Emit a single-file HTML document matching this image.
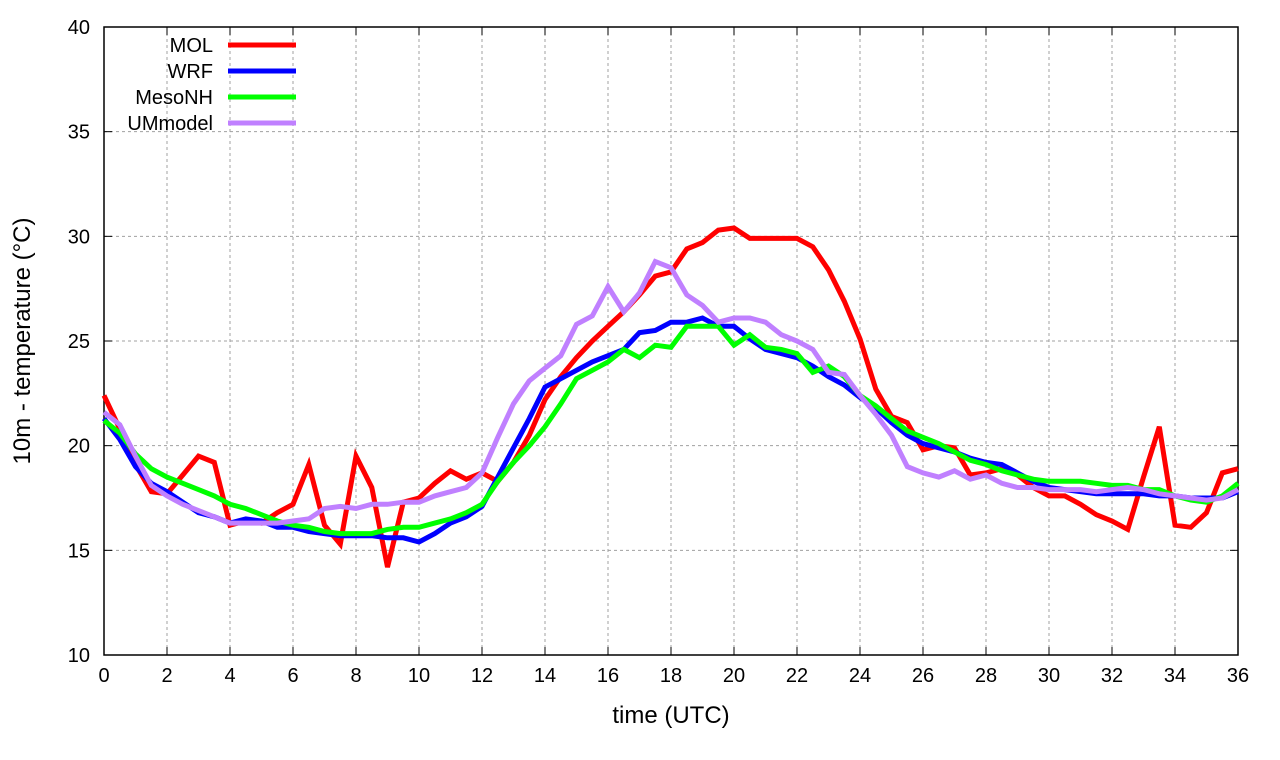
<!DOCTYPE html>
<html><head><meta charset="utf-8"><style>
body{margin:0;background:#fff}
svg{display:block;font-family:"Liberation Sans",sans-serif}
</style></head><body>
<svg id="chart" width="1280" height="760"></svg>
<script>
const hours = Array.from({length:73},(_,i)=>i*0.5);
const molValues = [22.4,20.8,19.1,17.8,17.7,18.6,19.5,19.2,16.2,16.4,16.3,16.8,17.2,19.1,16.2,15.3,19.5,18.0,14.2,17.3,17.5,18.2,18.8,18.4,18.7,18.3,19.2,20.5,22.2,23.3,24.2,25.0,25.7,26.4,27.2,28.1,28.3,29.4,29.7,30.3,30.4,29.9,29.9,29.9,29.9,29.5,28.4,26.9,25.1,22.7,21.4,21.1,19.8,20.0,19.9,18.6,18.7,18.9,18.6,18.0,17.6,17.6,17.2,16.7,16.4,16.0,18.5,20.9,16.2,16.1,16.8,18.7,18.9];
const wrfValues = [21.3,20.3,19.0,18.2,17.8,17.3,16.8,16.6,16.3,16.5,16.4,16.1,16.1,15.9,15.8,15.7,15.7,15.7,15.6,15.6,15.4,15.8,16.3,16.6,17.1,18.5,19.9,21.3,22.8,23.2,23.6,24.0,24.3,24.6,25.4,25.5,25.9,25.9,26.1,25.7,25.7,25.1,24.6,24.4,24.2,23.8,23.3,22.9,22.3,21.8,21.1,20.5,20.1,19.9,19.7,19.4,19.2,19.1,18.7,18.3,18.0,17.9,17.8,17.7,17.7,17.7,17.7,17.6,17.6,17.5,17.5,17.5,17.8];
const mesonhValues = [21.2,20.6,19.6,18.9,18.5,18.2,17.9,17.6,17.2,17.0,16.7,16.4,16.2,16.1,15.9,15.8,15.8,15.8,16.0,16.1,16.1,16.3,16.5,16.8,17.2,18.3,19.2,20.0,20.9,22.0,23.2,23.6,24.0,24.6,24.2,24.8,24.7,25.7,25.7,25.7,24.8,25.3,24.7,24.6,24.4,23.5,23.8,23.3,22.4,21.9,21.3,20.7,20.4,20.1,19.7,19.3,19.1,18.8,18.6,18.4,18.3,18.3,18.3,18.2,18.1,18.1,17.9,17.9,17.6,17.4,17.3,17.6,18.2];
const umValues = [21.6,21.0,19.5,18.1,17.6,17.2,16.9,16.6,16.3,16.3,16.3,16.3,16.4,16.5,17.0,17.1,17.0,17.2,17.2,17.3,17.3,17.6,17.8,18.0,18.7,20.4,22.0,23.1,23.7,24.3,25.8,26.2,27.6,26.4,27.3,28.8,28.5,27.2,26.7,25.9,26.1,26.1,25.9,25.3,25.0,24.6,23.5,23.4,22.4,21.5,20.5,19.0,18.7,18.5,18.8,18.4,18.6,18.2,18.0,18.0,17.9,17.9,17.9,17.8,17.9,18.0,17.9,17.7,17.6,17.5,17.4,17.5,17.9];
const xTicks = [0,2,4,6,8,10,12,14,16,18,20,22,24,26,28,30,32,34,36];
const yTicks = [10,15,20,25,30,35,40];
const seriesNames = ["MOL","WRF","MesoNH","UMmodel"];
const seriesColors = ["#ff0000","#0000ff","#00ff00","#c080ff"];

const NS="http://www.w3.org/2000/svg";
const svg=document.getElementById('chart');
const L=104,R=1238,T=27,B=655;
const xs=v=>L+(v-0)/36*(R-L);
const ys=v=>B-(v-10)/30*(B-T);
function mk(tag,attrs,parent){const e=document.createElementNS(NS,tag);for(const k in attrs)e.setAttribute(k,attrs[k]);(parent||svg).appendChild(e);return e;}

const grid=mk('g',{});


xTicks.forEach(t=>{
  if(t>0&&t<36){const l=mk('line',{x1:xs(t),x2:xs(t),y1:T,y2:B,stroke:'#a0a0a0','stroke-dasharray':'3,3','stroke-width':1},grid);
  
  }
  const tk=mk('line',{x1:xs(t),x2:xs(t),y1:B,y2:B-8,stroke:'#000'});
  
  
  const tk2=mk('line',{x1:xs(t),x2:xs(t),y1:T,y2:T+8,stroke:'#000'});
  
  
  const tx=mk('text',{x:xs(t),y:B+27,'text-anchor':'middle','font-size':20});
  tx.textContent=t;
  
  
});
yTicks.forEach(t=>{
  if(t>10&&t<40){const l=mk('line',{x1:L,x2:R,y1:ys(t),y2:ys(t),stroke:'#a0a0a0','stroke-dasharray':'3,3','stroke-width':1},grid);
  
  }
  const tk=mk('line',{x1:L,x2:L+8,y1:ys(t),y2:ys(t),stroke:'#000'});
  
  
  const tk2=mk('line',{x1:R,x2:R-8,y1:ys(t),y2:ys(t),stroke:'#000'});
  
  
  const tx=mk('text',{x:L-14,y:ys(t)+7,'text-anchor':'end','font-size':20});
  tx.textContent=t;
  
  
});
const frame=mk('rect',{x:L,y:T,width:R-L,height:B-T,fill:'none',stroke:'#000','stroke-width':1.5});



const allSeries=[molValues,wrfValues,mesonhValues,umValues];
allSeries.forEach((vals,si)=>{
  const pts=vals.map((v,i)=>xs(hours[i]).toFixed(1)+','+ys(v).toFixed(1)).join(' ');
  const p=mk('polyline',{points:pts,fill:'none',stroke:seriesColors[si],'stroke-width':5,'stroke-linejoin':'miter'});
  
  
});

seriesNames.forEach((n,i)=>{
  const y=45+i*26;
  const g=mk('g',{});
  
  
  const t=mk('text',{x:213,y:y+7,'text-anchor':'end','font-size':20},g);
  t.textContent=n;
  mk('line',{x1:228,x2:296,y1:y,y2:y,stroke:seriesColors[i],'stroke-width':5},g);
});

const xt=mk('text',{x:(L+R)/2,y:723,'text-anchor':'middle','font-size':24});
xt.textContent='time (UTC)';


const yt=mk('text',{x:0,y:0,'text-anchor':'middle','font-size':24,transform:'translate(30,341) rotate(-90)'});
yt.textContent='10m - temperature (°C)';


</script>
</body></html>
